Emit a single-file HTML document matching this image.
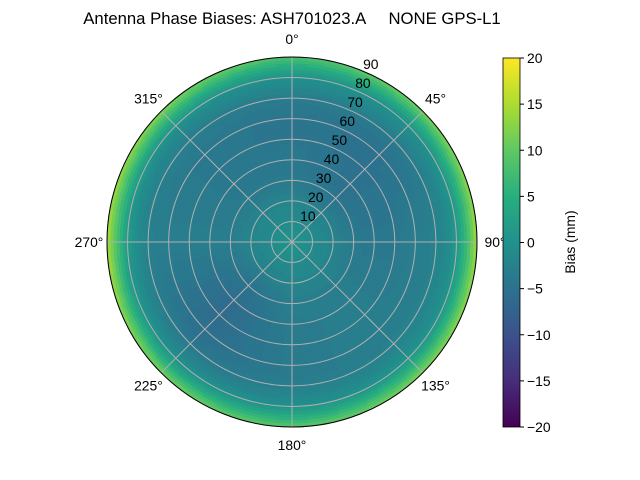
<!DOCTYPE html>
<html><head><meta charset="utf-8"><style>
body{margin:0;background:#fff;}
svg{display:block;font-family:"Liberation Sans","DejaVu Sans",sans-serif;}
</style></head><body>
<svg id="chart" width="640" height="480" viewBox="0 0 640 480">
<defs>
<linearGradient id="cbg" x1="0" y1="1" x2="0" y2="0">
<stop offset="0" stop-color="#440154"/><stop offset="0.125" stop-color="#472d7b"/><stop offset="0.25" stop-color="#3b528b"/><stop offset="0.375" stop-color="#2c728e"/><stop offset="0.5" stop-color="#21918c"/><stop offset="0.625" stop-color="#28ae80"/><stop offset="0.75" stop-color="#5ec962"/><stop offset="0.875" stop-color="#addc30"/><stop offset="1" stop-color="#fde725"/>
</linearGradient>
<clipPath id="clip"><circle cx="292" cy="242" r="185"/></clipPath>
</defs>
<text x="292" y="24" text-anchor="middle" font-size="16.7" xml:space="preserve">Antenna Phase Biases: ASH701023.A     NONE GPS-L1</text>
<g id="cells" clip-path="url(#clip)"></g>
<g id="grid"></g>
<circle cx="292" cy="242" r="185" fill="none" stroke="#000" stroke-width="1"/>
<g id="labels" font-size="13.9" fill="#000"></g>
<rect x="503" y="58" width="17" height="369" fill="url(#cbg)" stroke="#000" stroke-width="0.8"/>
<g id="cbticks" font-size="13.9"></g>
<text x="575" y="242" font-size="13.9" text-anchor="middle" transform="rotate(-90 575 242)">Bias (mm)</text>
</svg>
<script>
// zenith angles (deg) of grid rows
const zenith=[0,5,10,15,20,25,30,35,40,45,50,55,60,65,70,75,80,85,90];
// azimuth angles (deg) of grid columns
const azimuth=[0,45,90,135,180,225,270,315];
// bias values (mm): rows = zenith, cols = azimuth
const bias=[
[0,0,0,0,0,0,0,0],
[0,0,0,0,0,0,0,0],
[-1,-1,-1,-1,-1,-1,-1,-1],
[-1.5,-2,-1.5,-1.5,-1.5,-2,-1.5,-1.5],
[-2,-2.5,-2,-2,-2,-2.5,-2,-2],
[-3,-4,-3,-2.5,-2.5,-4,-2.5,-3],
[-3.5,-4.5,-3.5,-3,-3,-5,-3,-3.5],
[-4,-5,-4,-3,-3,-5.5,-3,-4],
[-4,-5,-4,-3,-3.5,-6,-3,-4],
[-4,-5,-4,-3,-3.5,-6,-3,-4],
[-4.5,-5,-4,-3,-3.5,-6,-3,-4],
[-4.5,-5,-3.5,-3,-3.5,-6,-3,-4],
[-4.5,-5,-3,-3,-3.5,-5.5,-3,-4],
[-4,-4.5,-3,-3,-3.5,-5,-3,-3.5],
[-3.5,-3.5,-2.5,-2.5,-3,-4,-2.5,-3],
[-2,-2,-1.5,-1.5,-2,-2.5,-1,-2],
[0,0,1,0.5,0,0,1.5,0.5],
[4,5,7,6,4.5,5,8,6],
[8,11,14,12,9,11,15,12]];
const cbTicks=[20,15,10,5,0,-5,-10,-15,-20];
const rTicks=[10,20,30,40,50,60,70,80,90];
const aTicks=[0,45,90,135,180,225,270,315];

const NS='http://www.w3.org/2000/svg';
const cx=292,cy=242,R=185,vmin=-20,vmax=20;
const rScale=z=>z/90*R;
const vir=["#440154","#472d7b","#3b528b","#2c728e","#21918c","#28ae80","#5ec962","#addc30","#fde725"];
function hex(h){return [1,3,5].map(i=>parseInt(h.substr(i,2),16));}
function color(v){let t=(v-vmin)/(vmax-vmin);t=Math.max(0,Math.min(1,t));
 t=Math.round(t*80)/80;
 const p=t*8,i=Math.min(7,Math.floor(p)),f=p-i,a=hex(vir[i]),b=hex(vir[i+1]);
 return 'rgb('+a.map((x,k)=>Math.round(x+(b[k]-x)*f)).join(',')+')';}
function sample(z,az){
 let zi=Math.min(zenith.length-2,Math.floor(z/5));let zf=(z-zenith[zi])/5;
 az=((az%360)+360)%360;let ai=Math.floor(az/45)%8,af=(az-ai*45)/45,aj=(ai+1)%8;
 const v0=bias[zi][ai]*(1-af)+bias[zi][aj]*af, v1=bias[zi+1][ai]*(1-af)+bias[zi+1][aj]*af;
 return v0*(1-zf)+v1*zf;}
function pt(z,az){const r=rScale(z),a=az*Math.PI/180;return [cx+r*Math.sin(a),cy-r*Math.cos(a)];}
const cells=document.getElementById('cells');
const dz=1.5,da=5;
for(let z=0;z<90;z+=dz){for(let a=0;a<360;a+=da){
 const v=sample(z+dz/2,a+da/2);
 const p1=pt(z,a),p2=pt(z,a+da),p3=pt(z+dz,a+da),p4=pt(z+dz,a);
 const el=document.createElementNS(NS,'path');
 el.setAttribute('d','M'+p1+'L'+p2+'L'+p3+'L'+p4+'Z');
 el.setAttribute('fill',color(v));el.setAttribute('stroke',color(v));el.setAttribute('stroke-width','0.6');
 
 
 cells.appendChild(el);}}
const grid=document.getElementById('grid'),labels=document.getElementById('labels');
rTicks.forEach(t=>{
 const c=document.createElementNS(NS,'circle');
 c.setAttribute('cx',cx);c.setAttribute('cy',cy);c.setAttribute('r',rScale(t));
 c.setAttribute('fill','none');c.setAttribute('stroke','#b0b0b0');c.setAttribute('stroke-width','1');
 
 
 grid.appendChild(c);
 const p=pt(t,22.5);const tx=document.createElementNS(NS,'text');
 tx.setAttribute('x',p[0]+8);tx.setAttribute('y',p[1]-2);tx.setAttribute('text-anchor','middle');
 tx.textContent=t;
 
 
 labels.appendChild(tx);});
aTicks.forEach(t=>{
 const p=pt(90,t);const l=document.createElementNS(NS,'line');
 l.setAttribute('x1',cx);l.setAttribute('y1',cy);l.setAttribute('x2',p[0]);l.setAttribute('y2',p[1]);
 l.setAttribute('stroke','#b0b0b0');l.setAttribute('stroke-width','1');
 
 
 grid.appendChild(l);
 const a=t*Math.PI/180,rr=R+18;
 const tx=document.createElementNS(NS,'text');
 tx.setAttribute('x',cx+rr*Math.sin(a));tx.setAttribute('y',cy-rr*Math.cos(a)+5);
 tx.setAttribute('text-anchor','middle');tx.textContent=t+'°';
 
 
 labels.appendChild(tx);});
const cb=document.getElementById('cbticks');
cbTicks.forEach(t=>{
 const y=58+(vmax-t)/(vmax-vmin)*369;
 const l=document.createElementNS(NS,'line');
 l.setAttribute('x1',520);l.setAttribute('x2',524);l.setAttribute('y1',y);l.setAttribute('y2',y);l.setAttribute('stroke','#000');
 
 
 cb.appendChild(l);
 const tx=document.createElementNS(NS,'text');
 tx.setAttribute('x',527);tx.setAttribute('y',y+5);tx.textContent=t<0?'\u2212'+(-t):t;
 
 
 cb.appendChild(tx);});
</script>
</body></html>
